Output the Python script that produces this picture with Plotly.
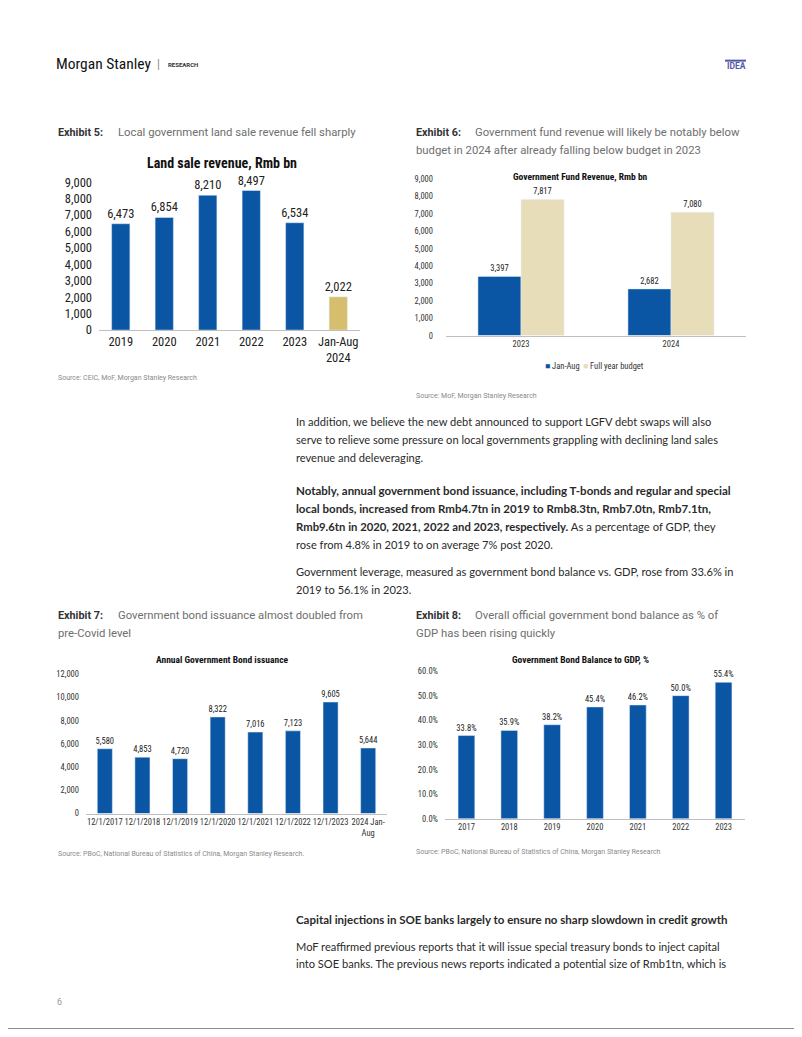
import plotly.graph_objects as go

# page offset of the plot inside the browser (default body margin)
OFF = 8
W, H = 802 - OFF, 1037 - OFF

# ---------------- data ----------------
land_years = ["2019", "2020", "2021", "2022", "2023", "Jan-Aug<br>2024"]
land_values = [6473, 6854, 8210, 8497, 6534, 2022]

fund_years = ["2023", "2024"]
fund_janaug = [3397, 2682]
fund_budget = [7817, 7080]

bond_years = ["12/1/2017", "12/1/2018", "12/1/2019", "12/1/2020", "12/1/2021",
              "12/1/2022", "12/1/2023", "2024 Jan-<br>Aug"]
bond_issuance = [5580, 4853, 4720, 8322, 7016, 7123, 9605, 5644]

gdp_years = ["2017", "2018", "2019", "2020", "2021", "2022", "2023"]
gdp_ratio = [33.8, 35.9, 38.2, 45.4, 46.2, 50.0, 55.4]

BLUE = "#0A56A4"
GOLD = "#D5BF6F"
BEIGE = "#E7DDB9"
CF = "Liberation Sans Narrow, Roboto Condensed, Roboto, sans-serif"
BODY = "Lato, Noto Sans, sans-serif"


def px(x):
    return (x - OFF) / W


def py(y):
    return 1 - (y - OFF) / H


fig = go.Figure()

# Chart 1
land_colors = [BLUE] * 5 + [GOLD]
fig.add_trace(go.Bar(x=land_years, y=land_values, marker_color=land_colors, width=0.42,
                     text=[f"{v:,}" for v in land_values], textposition="outside",
                     textfont=dict(family=CF, size=12.5, color="#222"), cliponaxis=False,
                     constraintext="none", showlegend=False, xaxis="x", yaxis="y",
                     hoverinfo="skip"))
# Chart 2
fig.add_trace(go.Bar(x=fund_years, y=fund_janaug, name="Jan-Aug", marker_color=BLUE,
                     width=0.287, offset=-0.287,
                     text=[f"{v:,}" for v in fund_janaug], textposition="outside",
                     textfont=dict(family=CF, size=8.5, color="#222"), cliponaxis=False,
                     constraintext="none", showlegend=False, xaxis="x2", yaxis="y2"))
fig.add_trace(go.Bar(x=fund_years, y=fund_budget, name="Full year budget", marker_color=BEIGE,
                     width=0.287, offset=0,
                     text=[f"{v:,}" for v in fund_budget], textposition="outside",
                     textfont=dict(family=CF, size=8.5, color="#222"), cliponaxis=False,
                     constraintext="none", showlegend=False, xaxis="x2", yaxis="y2"))
# Chart 3
fig.add_trace(go.Bar(x=bond_years, y=bond_issuance, marker_color=BLUE, width=0.4,
                     text=[f"{v:,}" for v in bond_issuance], textposition="outside",
                     textfont=dict(family=CF, size=8.5, color="#222"), cliponaxis=False,
                     constraintext="none", showlegend=False, xaxis="x3", yaxis="y3"))
# Chart 4
fig.add_trace(go.Bar(x=gdp_years, y=gdp_ratio, marker_color=BLUE, width=0.39,
                     text=[f"{v:.1f}%" for v in gdp_ratio], textposition="outside",
                     textfont=dict(family=CF, size=8.5, color="#222"), cliponaxis=False,
                     constraintext="none", showlegend=False, xaxis="x4", yaxis="y4"))

xcommon = dict(showgrid=False, zeroline=False, showline=True, linecolor="#BFBFBF",
               linewidth=1, ticks="", fixedrange=True, tickangle=0)
ycommon = dict(showgrid=False, zeroline=False, showline=False, ticks="", fixedrange=True)

fig.update_layout(
    width=W, height=H, margin=dict(l=0, r=0, t=0, b=0),
    paper_bgcolor="white", plot_bgcolor="white",
    xaxis=dict(domain=[px(99), px(360)], anchor="y",
               tickfont=dict(family=CF, size=12.5, color="#222"), **xcommon),
    yaxis=dict(domain=[py(326.7), py(176.7)], anchor="x", range=[0, 9000], dtick=1000,
               tickformat=",", tickfont=dict(family=CF, size=12.5, color="#222"),
               ticklabelstandoff=6, **ycommon),
    xaxis2=dict(domain=[px(446), px(746)], anchor="y2",
                tickfont=dict(family=CF, size=8.5, color="#333"), **xcommon),
    yaxis2=dict(domain=[py(332.3), py(173.3)], anchor="x2", range=[0, 9000], dtick=1000,
                tickformat=",", tickfont=dict(family=CF, size=8.5, color="#333"),
                ticklabelstandoff=12, **ycommon),
    xaxis3=dict(domain=[px(86), px(387)], anchor="y3",
                tickfont=dict(family=CF, size=8.5, color="#333"), **xcommon),
    yaxis3=dict(domain=[py(817.3), py(676)], anchor="x3", range=[0, 12000], dtick=2000,
                tickformat=",", tickfont=dict(family=CF, size=8.5, color="#333"),
                ticklabelstandoff=6, **ycommon),
    xaxis4=dict(domain=[px(445), px(745)], anchor="y4",
                tickfont=dict(family=CF, size=8.5, color="#333"), **xcommon),
    yaxis4=dict(domain=[py(822.7), py(672.7)], anchor="x4", range=[0, 60], dtick=10,
                tickformat=".1f", ticksuffix="%", tickfont=dict(family=CF, size=8.5, color="#333"),
                ticklabelstandoff=6, **ycommon),
    showlegend=False,
)

ann = []


def text(x, y, s, size, color="#333", family=BODY, anchor="left"):
    ann.append(dict(x=px(x), y=py(y), xref="paper", yref="paper", text=s, showarrow=False,
                    xanchor=anchor, yanchor="middle",
                    font=dict(family=family, size=size, color=color)))


# header
text(54, 57, "Morgan Stanley", 15.5, "#111", "Liberation Sans Narrow, Roboto Condensed, Roboto")
text(155, 57, "|", 12, "#888", "Roboto")
text(166, 57, "<b>RESEARCH</b>", 6, "#333", "Roboto")
text(725, 59, "<b>IDEA</b>", 8.5, "#5558A8", "Roboto")

# exhibit headers
EX = "Roboto"
GRAY = "#6E6E6E"
HS = 11.3
text(56, 126.7, "<b>Exhibit 5:</b>", 10.8, "#333", EX)
text(116, 126.7, "Local government land sale revenue fell sharply", HS, GRAY, EX)
text(414, 126.7, "<b>Exhibit 6:</b>", 10.8, "#333", EX)
text(473, 126.7, "Government fund revenue will likely be notably below", HS, GRAY, EX)
text(414, 144.3, "budget in 2024 after already falling below budget in 2023", HS, GRAY, EX)
text(56, 616.7, "<b>Exhibit 7:</b>", 10.8, "#333", EX)
text(116, 616.7, "Government bond issuance almost doubled from", HS, GRAY, EX)
text(56, 635, "pre-Covid level", HS, GRAY, EX)
text(414, 616.7, "<b>Exhibit 8:</b>", 10.8, "#333", EX)
text(473, 616.7, "Overall official government bond balance as % of", HS, GRAY, EX)
text(414, 634.5, "GDP has been rising quickly", HS, GRAY, EX)

# chart titles
text(222, 157, "<b>Land sale revenue, Rmb bn</b>", 14, "#111", CF, "center")
text(580, 171, "<b>Government Fund Revenue, Rmb bn</b>", 9.5, "#111", CF, "center")
text(222, 661, "<b>Annual Government Bond issuance</b>", 9.5, "#111", CF, "center")
text(580, 661, "<b>Government Bond Balance to GDP, %</b>", 9.5, "#111", CF, "center")

# chart 2 legend (text swatches)
text(543, 363, f"<span style='color:{BLUE}'>■</span> Jan-Aug", 8.5, "#333", CF)
text(581, 363, f"<span style='color:{BEIGE}'>■</span> Full year budget", 8.5, "#333", CF)

# sources
SRC = "#8A8A8A"
text(56, 375.7, "Source: CEIC, MoF, Morgan Stanley Research", 7, SRC, EX)
text(414, 393.3, "Source: MoF, Morgan Stanley Research", 7, SRC, EX)
text(56, 858.3, "Source: PBoC, National Bureau of Statistics of China, Morgan Stanley Research.", 7, SRC, EX)
text(414, 856, "Source: PBoC, National Bureau of Statistics of China, Morgan Stanley Research", 7, SRC, EX)

# body text
B = 11.1
BB = 11.5
BC = "#2A2A2A"
text(294, 420, "In addition, we believe the new debt announced to support LGFV debt swaps will also", B, BC)
text(294, 437.7, "serve to relieve some pressure on local governments grappling with declining land sales", B, BC)
text(294, 456, "revenue and deleveraging.", B, BC)
text(294, 489.3, "<b>Notably, annual government bond issuance, including T-bonds and regular and special</b>", BB, BC)
text(294, 507.7, "<b>local bonds, increased from Rmb4.7tn in 2019 to Rmb8.3tn, Rmb7.0tn, Rmb7.1tn,</b>", BB, BC)
text(294, 526, "<b>Rmb9.6tn in 2020, 2021, 2022 and 2023, respectively.</b> As a percentage of GDP, they", 11.3, BC)
text(294, 544, "rose from 4.8% in 2019 to on average 7% post 2020.", B, BC)
text(294, 571.7, "Government leverage, measured as government bond balance vs. GDP, rose from 33.6% in", B, BC)
text(294, 590, "2019 to 56.1% in 2023.", B, BC)
text(294, 925, "<b>Capital injections in SOE banks largely to ensure no sharp slowdown in credit growth</b>", BB, BC)
text(294, 952.7, "MoF reaffirmed previous reports that it will issue special treasury bonds to inject capital", B, BC)
text(294, 970, "into SOE banks. The previous news reports indicated a potential size of Rmb1tn, which is", B, BC)

# page number
text(55, 1009, "6", 9, "#999", EX)

fig.update_layout(annotations=ann)

shapes = [
    dict(type="line", xref="paper", yref="paper", x0=px(725), x1=px(746), y0=py(53.3), y1=py(53.3),
         line=dict(color="#5558A8", width=2)),
    # page frame: right and bottom edges
    dict(type="line", xref="paper", yref="paper", x0=px(800.5), x1=px(800.5), y0=py(1035.5), y1=1,
         line=dict(color="#8C8C8C", width=1)),
    dict(type="line", xref="paper", yref="paper", x0=0, x1=px(800.5), y0=py(1035.5), y1=py(1035.5),
         line=dict(color="#8C8C8C", width=1)),
]
fig.update_layout(shapes=shapes)

fig.write_html("out.html", config={"displayModeBar": False})
